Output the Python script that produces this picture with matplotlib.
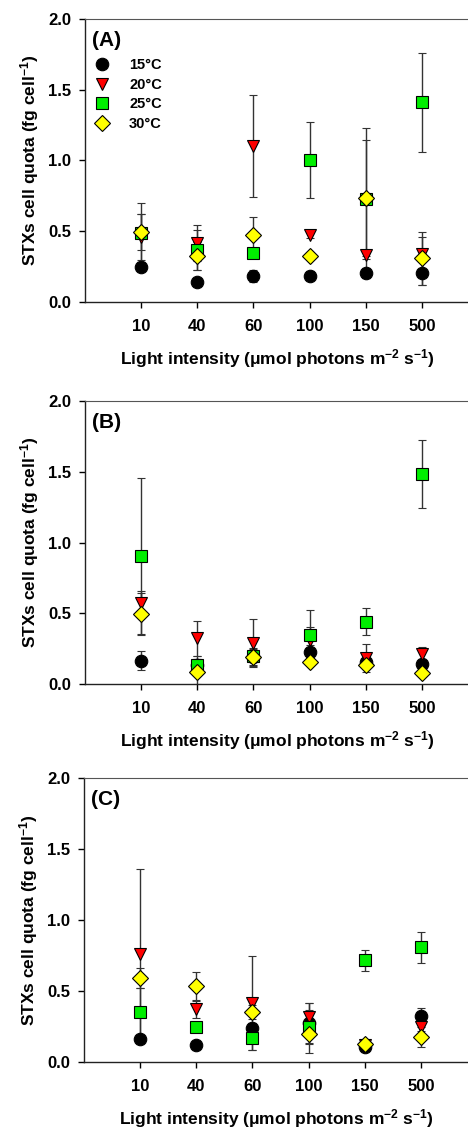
import numpy as np
import matplotlib
matplotlib.use("Agg")
import matplotlib.pyplot as plt

plt.rcParams['font.family'] = ['Liberation Sans', 'DejaVu Sans']
plt.rcParams['font.weight'] = 'bold'
plt.rcParams['axes.labelweight'] = 'bold'
plt.rcParams['mathtext.fontset'] = 'custom'
plt.rcParams['mathtext.rm'] = 'Liberation Sans:bold'
plt.rcParams['mathtext.bf'] = 'Liberation Sans:bold'
plt.rcParams['mathtext.default'] = 'bf'

# light levels (categorical x axis)
light = ['10', '40', '60', '100', '150', '500']
temps = ['15°C', '20°C', '25°C', '30°C']

# panel A  (mean, sd) per temperature
a_mean = [[0.245, 0.144, 0.184, 0.186, 0.205, 0.205],
          [0.46, 0.417, 1.10, 0.475, 0.334, 0.341],
          [0.49, 0.369, 0.346, 1.002, 0.73, 1.41],
          [0.494, 0.327, 0.473, 0.327, 0.732, 0.308]]
a_sd = [[0.02, 0.02, 0.04, 0.03, 0.035, 0.085],
        [0.16, 0.13, 0.36, 0.02, 0.03, 0.12],
        [0.21, 0.14, 0.03, 0.27, 0.5, 0.35],
        [0.13, 0.10, 0.13, 0.02, 0.41, 0.19]]

# panel B
b_mean = [[0.165, 0.134, 0.193, 0.224, 0.158, 0.142],
          [0.575, 0.323, 0.288, 0.31, 0.186, 0.212],
          [0.903, 0.134, 0.20, 0.344, 0.441, 1.483],
          [0.495, 0.087, 0.189, 0.158, 0.134, 0.08]]
b_sd = [[0.065, 0.04, 0.06, 0.05, 0.04, 0.03],
        [0.08, 0.125, 0.17, 0.09, 0.10, 0.05],
        [0.55, 0.065, 0.03, 0.18, 0.095, 0.24],
        [0.15, 0.087, 0.06, 0.02, 0.03, 0.02]]

# panel C
c_mean = [[0.16, 0.118, 0.237, 0.273, 0.108, 0.324],
          [0.759, 0.371, 0.414, 0.315, 0.12, 0.249],
          [0.355, 0.244, 0.167, 0.25, 0.717, 0.808],
          [0.595, 0.536, 0.355, 0.197, 0.127, 0.174]]
c_sd = [[0.02, 0.02, 0.04, 0.14, 0.02, 0.06],
        [0.6, 0.06, 0.33, 0.10, 0.03, 0.03],
        [0.17, 0.03, 0.08, 0.12, 0.076, 0.11],
        [0.07, 0.10, 0.05, 0.136, 0.02, 0.07]]

markers = ['o', 'v', 's', 'D']
colors = ['black', '#ff0000', '#00ee00', '#ffff00']
msizes = [9, 9, 8, 8]

fig = plt.figure(figsize=(4.68, 11.29), dpi=100)
panels = [('(A)', a_mean, a_sd, [0.1816, 0.7325, 0.84, 0.2507]),
          ('(B)', b_mean, b_sd, [0.1816, 0.3942, 0.84, 0.2505]),
          ('(C)', c_mean, c_sd, [0.1795, 0.0593, 0.84, 0.2514])]

x = np.arange(1, len(light) + 1)
for tag, means, sds, pos in panels:
    ax = fig.add_axes(pos)
    handles = []
    for i in range(len(temps)):
        c = ax.errorbar(x, means[i], yerr=sds[i], fmt=markers[i], color='#333333',
                        mfc=colors[i], mec='black', mew=0.8, ms=msizes[i],
                        ecolor='#333333', elinewidth=1, capsize=3, capthick=1)
        handles.append(c[0])
    ax.set_xlim(0, 7)
    ax.set_ylim(0, 2.0)
    ax.set_xticks(x)
    ax.set_xticklabels(light)
    ax.set_yticks([0, 0.5, 1.0, 1.5, 2.0])
    ax.set_yticklabels(['0.0', '0.5', '1.0', '1.5', '2.0'])
    ax.tick_params(direction='out', length=4, width=1, labelsize=12, pad=6)
    ax.tick_params(axis='x', pad=8)
    for s in ['left', 'bottom']:
        ax.spines[s].set_color('#222222')
        ax.spines[s].set_linewidth(1)
    ax.spines['top'].set_color('#555555')
    ax.spines['right'].set_visible(False)
    ax.set_ylabel(r'STXs cell quota (fg cell$^{-1}$)', fontsize=12.5)
    ax.yaxis.set_label_coords(-0.112, 0.5)
    ax.set_xlabel(r'Light intensity (μmol photons m$^{-2}$ s$^{-1}$)', fontsize=12.5)
    ax.xaxis.set_label_coords(0.49, -0.16)
    ax.text(0.017, 0.958, tag, transform=ax.transAxes, fontsize=15,
            fontweight='bold', va='top', ha='left')
    if tag == '(A)':
        ax.legend(handles, temps, loc='upper left', bbox_to_anchor=(0.025, 0.861),
                  frameon=False, fontsize=10.5, handlelength=1.0, handletextpad=1.35,
                  labelspacing=0.38, borderaxespad=0, borderpad=0)

fig.savefig('out.png', dpi=100)
